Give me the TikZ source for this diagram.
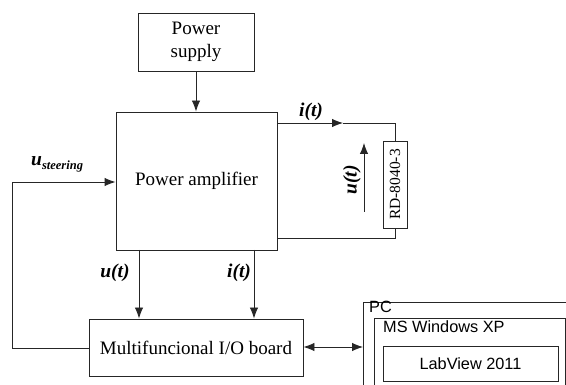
\documentclass[tikz,border=0pt]{standalone}
\usepackage{fontspec}
\setmainfont{Liberation Serif}
\setsansfont{Liberation Sans}
\usetikzlibrary{arrows.meta}
\tikzset{
  box/.style={draw=black!85, line width=0.9pt, rectangle, inner sep=0pt, fill=white},
  wire/.style={draw=black!85, line width=0.9pt},
  arr/.style={wire, -{Latex[length=11pt,width=8.5pt]}},
  biarr/.style={wire, {Latex[length=11pt,width=8.5pt]}-{Latex[length=11pt,width=8.5pt]}},
  serif/.style={font=\fontsize{19}{23}\selectfont, align=center},
  sans/.style={font=\sffamily\fontsize{16.3}{19}\selectfont, inner sep=0pt},
  lbl/.style={font=\fontsize{19.5}{22}\selectfont\bfseries\itshape, inner sep=0pt}
}
\begin{document}
\begin{tikzpicture}[x=1pt,y=-1pt]
\useasboundingbox (0,0) rectangle (566,385);
\clip (0,0) rectangle (566,385);
\fill[white] (0,0) rectangle (566,385);

% main blocks
\node[box, minimum width=116pt, minimum height=58pt] (ps) at (196,42) {};
\node[serif] at (ps) {Power\\supply};
\node[box, minimum width=161pt, minimum height=138pt] (amp) at (196.5,181) {};
\node[serif] at (amp) {Power amplifier};
\node[box, minimum width=214pt, minimum height=57pt] (io) at (196,347.5) {};
\node[serif] at (io) {Multifuncional I/O board};
\node[box, minimum width=24pt, minimum height=87pt] (res) at (395,184.5) {};
\node[rotate=90, font=\fontsize{15.5}{17}\selectfont, inner sep=0pt] at (res) {RD-8040-3};

% PC side
\node[box, anchor=north west, minimum width=215pt, minimum height=95pt] (pc) at (363,302) {};
\node[sans, anchor=base west] at (369,313) {PC};
\node[box, anchor=north west, minimum width=191pt, minimum height=80pt] (win) at (374,318) {};
\node[sans, anchor=base west] at (383,333) {MS Windows XP};
\node[box, minimum width=175pt, minimum height=35pt] (lv) at (470.5,363.5) {};
\node[sans] at (lv) {LabView 2011};

% connectors
\draw[arr] (ps.south) -- (ps.south |- amp.north);

\coordinate (tw) at (amp.east |- 0,123);
\coordinate (tm) at (343,123);
\coordinate (tr) at (res.north |- 0,123);
\draw[arr] (tw) -- (tm);
\draw[wire] (tm) -- (tr) -- (res.north);

\coordinate (bw) at (res.south |- 0,238);
\draw[wire] (res.south) -- (bw) -- (amp.east |- bw);

\coordinate (ua) at (364,212);
\coordinate (ub) at (364,143);
\draw[arr] (ua) -- (ub);

\coordinate (sl) at (12,348);
\coordinate (su) at (12,182);
\draw[arr] (io.west |- sl) -- (sl) -- (su) -- (amp.west |- su);

\coordinate (d1) at (139,250);
\coordinate (d2) at (254,250);
\draw[arr] (d1) -- (d1 |- io.north);
\draw[arr] (d2) -- (d2 |- io.north);

\draw[biarr] (io.east |- 0,347) -- (pc.west |- 0,347);

% labels
\node[lbl] at (311,112) {i(t)};
\node[lbl, rotate=90] at (352,180) {u(t)};
\node[lbl] at (115,273) {u(t)};
\node[lbl] at (239,273) {i(t)};
\node[lbl, anchor=base west] at (31,166) {u\raisebox{-4pt}{\fontsize{12.5}{12}\selectfont\bfseries\itshape steering}};
\end{tikzpicture}
\end{document}
